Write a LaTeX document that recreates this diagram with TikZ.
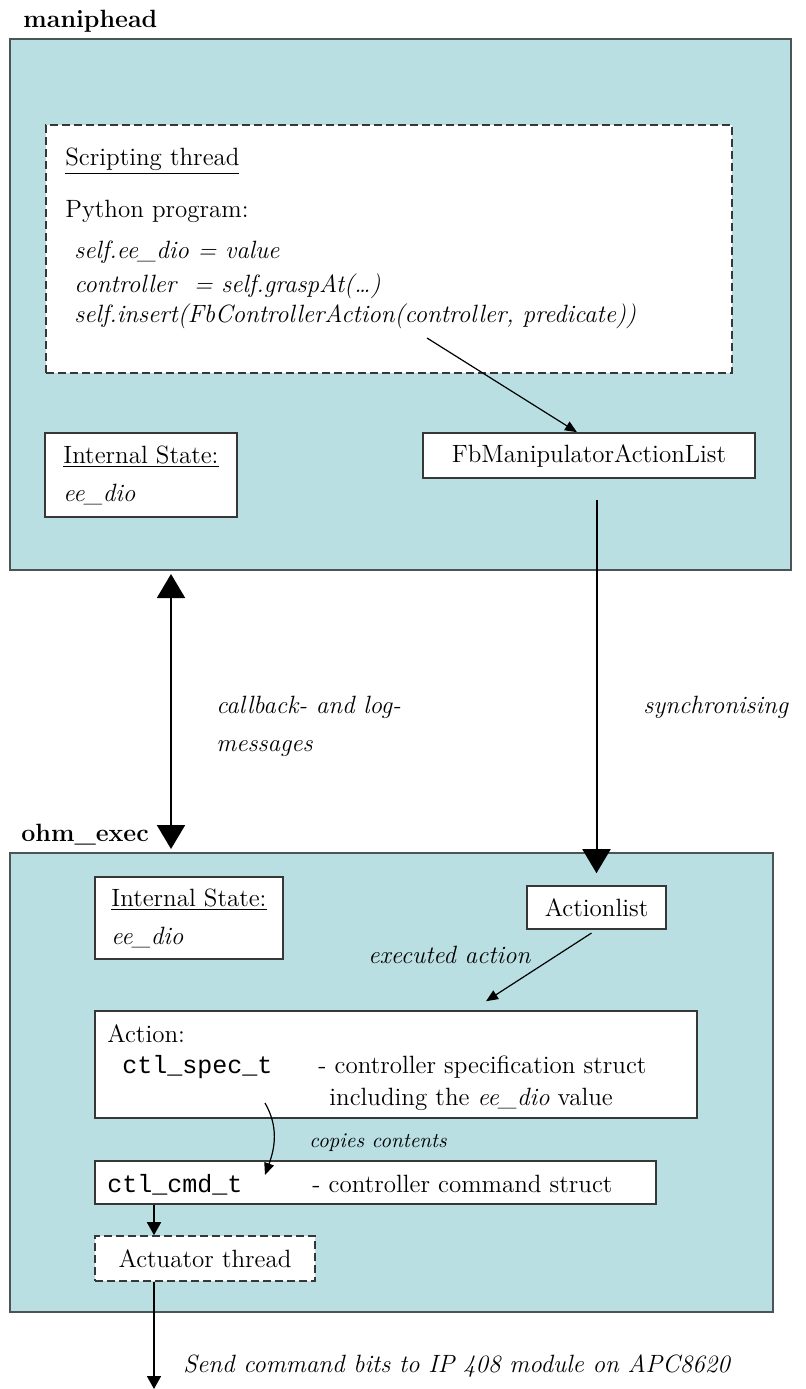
\documentclass[tikz,border=0pt]{standalone}
\usepackage{fontspec}
\setmonofont{Liberation Mono}
\usetikzlibrary{arrows.meta,fit}

\definecolor{panelblue}{RGB}{185,223,227}
\definecolor{panelline}{RGB}{75,85,85}
\definecolor{boxline}{RGB}{55,55,55}

\newcommand{\normaltext}{\fontsize{12.5}{19}\selectfont}
\newcommand{\smalltext}{\fontsize{10.5}{13}\selectfont}

\tikzset{
  panel/.style={draw=panelline, fill=panelblue, line width=1pt, inner sep=0pt},
  whitebox/.style={draw=boxline, fill=white, line width=0.8pt, inner sep=0pt, font=\normaltext},
  threadbox/.style={whitebox, dash pattern=on 4pt off 2pt},
  txt/.style={anchor=base west, inner sep=0pt, font=\normaltext},
  bigboth/.style={line width=1pt, {Triangle[length=12pt,width=14pt]}-{Triangle[length=12pt,width=14pt]}},
  bigarrow/.style={line width=1pt, -{Triangle[length=12pt,width=14pt]}},
  smallarrow/.style={line width=0.9pt, -{Triangle[length=6.5pt,width=7pt]}},
  thinarrow/.style={line width=0.6pt, -{Triangle[length=6pt,width=5pt]}},
}

\begin{document}
\begin{tikzpicture}[x=0.5pt, y=-0.5pt]
    \useasboundingbox (0,0) rectangle (806,1389);
    % maniphead
    \node[txt, font=\normaltext\bfseries] (manilabel) at (23,27) {maniphead};
    \node[panel, fit={(10,39) (791,570)}] (mani) {};
    \node[threadbox, fit={(46,125) (732,373)}] (script) {};
    \node[txt] (scripttitle) at (65,165) {\underline{Scripting thread}};
    \node[txt] (python) at (65,217) {Python program:};
    \node[txt] (line1) at (74,258) {\itshape self.ee\_dio = value};
    \node[txt] (line2) at (74,292) {\itshape controller~ = self.graspAt(\dots)};
    \node[txt] (line3) at (74,322) {\itshape self.insert(FbControllerAction(controller, predicate))};
    \node[whitebox, minimum width=96pt, minimum height=42pt, align=left] (state1) at (141,475)
        {\underline{Internal State:}\\\textit{ee\_dio}};
    \node[whitebox, minimum width=166pt, minimum height=22.5pt] (fbl) at (589,455.5) {FbManipulatorActionList};
    \coordinate (insertpt) at (427,338);
    \draw[thinarrow] (insertpt) -- ([xshift=-6pt]fbl.north);

    % ohm_exec
    \node[txt, font=\normaltext\bfseries] (ohmlabel) at (21,841) {ohm\_exec};
    \node[panel, fit={(10,853) (773,1312)}] (ohm) {};
    \node[whitebox, minimum width=94pt, minimum height=41pt, align=left] (state2) at (189,918)
        {\underline{Internal State:}\\\textit{ee\_dio}};
    \node[whitebox, minimum width=69.5pt, minimum height=21.5pt] (alist) at (596.5,907.5) {Actionlist};
    \node[whitebox, fit={(95,1011) (697,1118)}] (act) {};
    \node[txt] (acttitle) at (107,1042) {Action:};
    \node[txt, font=\fontsize{12.5}{19}\ttfamily] (spec) at (122,1073) {ctl\_spec\_t};
    \node[txt] (specdesc) at (318,1073) {- controller specification struct};
    \node[txt] (specdesc2) at (329,1105) {including the \textit{ee\_dio} value};
    \node[whitebox, fit={(95,1161) (656,1204)}] (cmd) {};
    \node[txt, font=\fontsize{12.5}{19}\ttfamily] (cmdname) at (107,1192) {ctl\_cmd\_t};
    \node[txt] (cmddesc) at (312,1192) {- controller command struct};
    \node[threadbox, minimum width=110pt, minimum height=22.5pt] (actu) at (205,1258.5) {Actuator thread};

    % connectors
    \coordinate (cbx) at (171,0);
    \draw[bigboth, shorten <=1.5pt, shorten >=1.5pt] (cbx |- mani.south) -- (cbx |- ohm.north);
    \node[txt, align=left] (cblabel) at (216,751) {\itshape callback- and log-\\\itshape messages};
    \draw[bigarrow, shorten <=10.5pt, shorten >=6pt] (alist.north |- fbl.south) -- (alist.north);
    \node[txt] (synclabel) at (643,713) {\itshape synchronising};
    \draw[thinarrow, shorten <=3pt] (alist.south) -- ([xshift=45pt,yshift=4.5pt]act.north);
    \node[txt] (execlabel) at (368,963) {\itshape executed action};
    \coordinate (copyfrom) at (265,1103);
    \coordinate (copyto) at (265,1175);
    \draw[thinarrow] (copyfrom) to[out=-60, in=70] (copyto);
    \node[txt, font=\smalltext\itshape] (copylabel) at (309,1147) {copies contents};
    \coordinate (ax) at (154,0);
    \draw[smallarrow] (ax |- cmd.south) -- (ax |- actu.north);
    \coordinate (sendend) at (154,1389);
    \draw[smallarrow] (ax |- actu.south) -- (sendend);
    \node[txt] (sendlabel) at (183,1372) {\itshape Send command bits to IP 408 module on APC8620};
\end{tikzpicture}
\end{document}
